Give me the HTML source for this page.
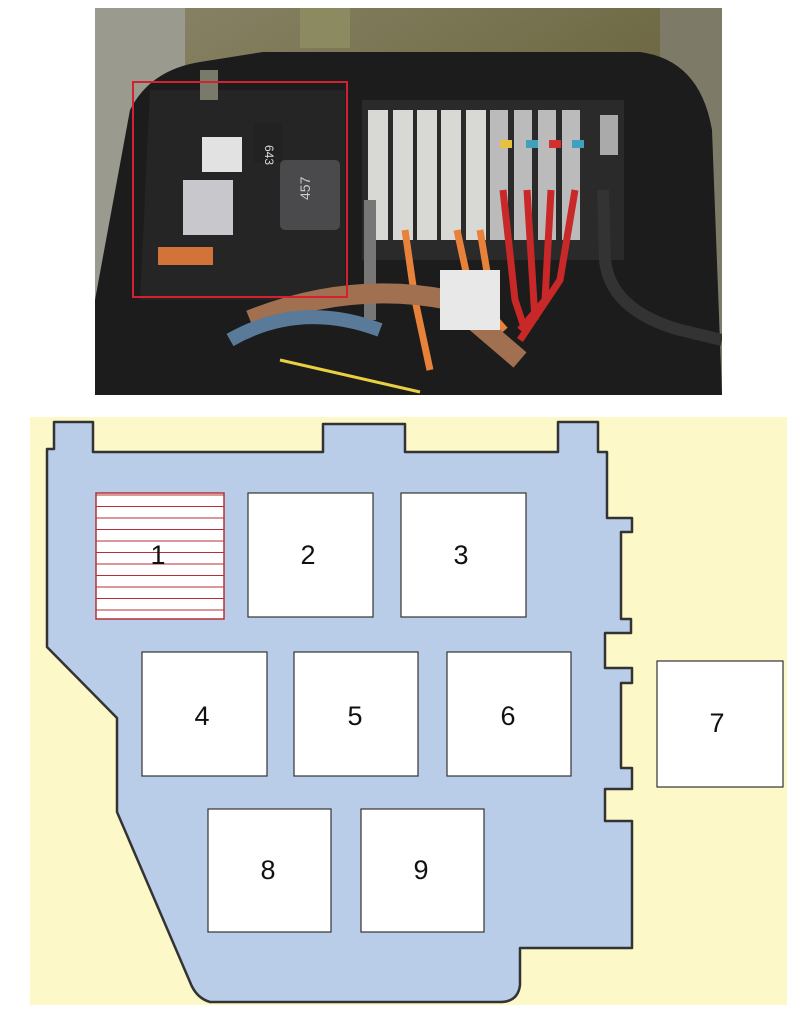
<!DOCTYPE html>
<html><head><meta charset="utf-8"><style>
html,body{margin:0;padding:0;background:#fff;width:807px;height:1024px;overflow:hidden}
svg{position:absolute;left:0;top:0}
</style></head><body>
<svg width="807" height="1024" viewBox="0 0 807 1024" xmlns="http://www.w3.org/2000/svg">
<defs>
<linearGradient id="bg" x1="0" y1="0" x2="1" y2="1">
<stop offset="0" stop-color="#8a8568"/><stop offset="0.5" stop-color="#6f6a45"/><stop offset="1" stop-color="#5a553a"/>
</linearGradient>
<clipPath id="ph"><rect x="95" y="8" width="627" height="387"/></clipPath>
<pattern id="hatch" width="10" height="11.5" patternUnits="userSpaceOnUse">
<rect width="10" height="11.5" fill="#fff"/><line x1="0" y1="0.5" x2="10" y2="0.5" stroke="#b5303a" stroke-width="1"/>
</pattern>
</defs>
<!-- photo -->
<g clip-path="url(#ph)">
<rect x="95" y="8" width="627" height="387" fill="url(#bg)"/>
<rect x="95" y="8" width="90" height="387" fill="#9a9a8e"/>
<rect x="660" y="8" width="62" height="387" fill="#7d7b68"/>
<path d="M263 52 L640 52 Q700 60 712 130 L722 395 L95 395 L95 300 L130 110 Q150 70 200 62 Z" fill="#1c1c1c"/>
<path d="M150 90 L345 90 L345 300 L140 300 Z" fill="#252525"/>
<rect x="362" y="100" width="262" height="160" fill="#2a2a2a"/>
<g fill="#d8d8d4">
<rect x="368" y="110" width="20" height="130"/><rect x="393" y="110" width="20" height="130"/>
<rect x="417" y="110" width="20" height="130"/><rect x="441" y="110" width="20" height="130"/>
<rect x="466" y="110" width="20" height="130"/><rect x="490" y="110" width="18" height="130" fill="#bbb"/>
<rect x="514" y="110" width="18" height="130" fill="#bbb"/><rect x="538" y="110" width="18" height="130" fill="#bbb"/>
<rect x="562" y="110" width="18" height="130" fill="#bbb"/><rect x="600" y="115" width="18" height="40" fill="#aaa"/>
</g>
<rect x="500" y="140" width="12" height="8" fill="#e8c040"/><rect x="526" y="140" width="12" height="8" fill="#40a0c0"/>
<rect x="549" y="140" width="12" height="8" fill="#d03030"/><rect x="572" y="140" width="12" height="8" fill="#40a0c0"/>
<g stroke="#c82828" stroke-width="7" fill="none">
<path d="M503 190 L515 300 L525 330"/><path d="M527 190 L535 320"/><path d="M551 190 L545 300 L520 330"/><path d="M575 190 L560 280 L520 340"/>
</g>
<g stroke="#e8823a" stroke-width="7" fill="none">
<path d="M405 230 L415 300 L430 370"/><path d="M457 230 L470 290 L505 330"/><path d="M480 230 L490 290"/>
</g>
<path d="M603 190 L605 260 Q610 310 680 330 L722 340" stroke="#333" stroke-width="12" fill="none"/>
<path d="M370 200 L370 320" stroke="#777" stroke-width="12"/>
<path d="M250 320 Q350 280 450 300 L520 360" stroke="#a07050" stroke-width="20" fill="none"/>
<path d="M230 340 Q300 300 380 330" stroke="#5a7a9a" stroke-width="14" fill="none"/>
<path d="M280 360 L420 392" stroke="#e8d040" stroke-width="3"/>
<rect x="440" y="270" width="60" height="60" fill="#e8e8e8"/>
<rect x="202" y="137" width="40" height="35" fill="#e2e2e2"/>
<rect x="183" y="180" width="50" height="55" fill="#c8c8cc"/>
<rect x="254" y="123" width="28" height="40" fill="#222"/>
<text x="270" y="150" fill="#ddd" font-family="Liberation Sans,sans-serif" font-size="12" transform="rotate(90 270 145)">643</text>
<rect x="280" y="160" width="60" height="70" rx="5" fill="#4a4a4c"/>
<text x="300" y="200" fill="#ccc" font-family="Liberation Sans,sans-serif" font-size="14" transform="rotate(-90 305 195)">457</text>
<rect x="158" y="247" width="55" height="18" fill="#d2743a"/>
<rect x="200" y="70" width="18" height="30" fill="#7a7a6a"/>
<rect x="300" y="8" width="50" height="40" fill="#8c8a60"/>
</g>
<rect x="133" y="82" width="214" height="215" fill="none" stroke="#d42030" stroke-width="2"/>
<!-- diagram -->
<rect x="30" y="417" width="757" height="588" fill="#fdf8c8"/>
<path d="M54 422 L93 422 L93 452 L323 452 L323 424 L405 424 L405 452 L558 452 L558 422 L598 422 L598 452 L607 452 L607 518 L632 518 L632 532 L621 532 L621 619 L631 619 L631 633 L605 633 L605 668 L632 668 L632 683 L621 683 L621 768 L632 768 L632 789 L605 789 L605 821 L632 821 L632 948 L520 948 L520 985 Q518 1002 500 1002 L210 1002 Q196 998 190 982 L117 812 L117 718 L47 647 L47 449 L54 449 Z" fill="#b9cde8" stroke="#333" stroke-width="2.5" stroke-linejoin="round"/>
<rect x="96" y="493" width="128" height="126" fill="url(#hatch)" stroke="#b5303a" stroke-width="1.5"/>
<g fill="#fff" stroke="#333" stroke-width="1.2">
<rect x="248" y="493" width="125" height="124"/><rect x="401" y="493" width="125" height="124"/>
<rect x="142" y="652" width="125" height="124"/><rect x="294" y="652" width="124" height="124"/>
<rect x="447" y="652" width="124" height="124"/><rect x="657" y="661" width="126" height="126"/>
<rect x="208" y="809" width="123" height="123"/><rect x="361" y="809" width="123" height="123"/>
</g>
<g font-family="Liberation Sans,sans-serif" font-size="27" fill="#111" text-anchor="middle">
<text x="158" y="564">1</text><text x="308" y="564">2</text><text x="461" y="564">3</text>
<text x="202" y="725">4</text><text x="355" y="725">5</text><text x="508" y="725">6</text>
<text x="717" y="732">7</text><text x="268" y="879">8</text><text x="421" y="879">9</text>
</g>
</svg>
</body></html>
